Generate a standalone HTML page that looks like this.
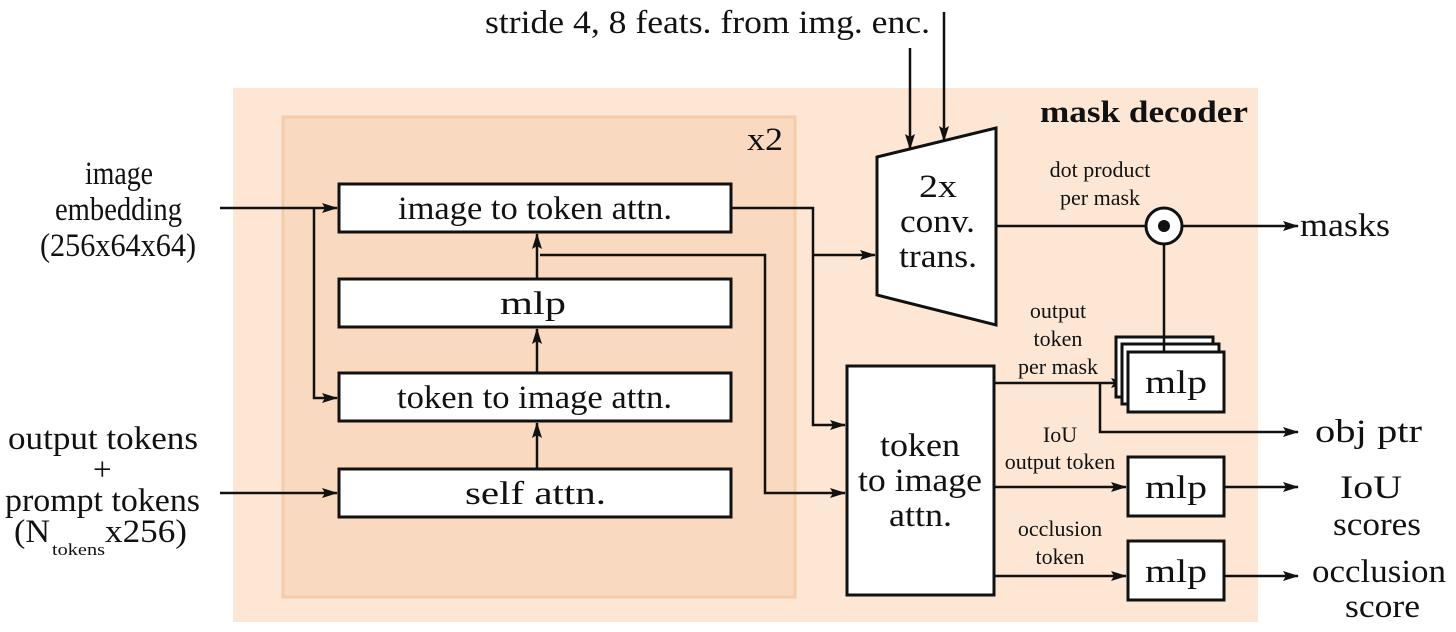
<!DOCTYPE html>
<html><head><style>
html,body{margin:0;padding:0;background:#fff;width:1456px;height:632px;overflow:hidden}
svg{display:block}
svg text{font-family:"Liberation Serif","Times New Roman",serif;fill:#111}
</style></head><body>
<svg width="1456" height="632" viewBox="0 0 1456 632" xmlns="http://www.w3.org/2000/svg" font-family="Liberation Serif, serif">
<defs>
<marker id="a" markerWidth="16" markerHeight="10" refX="15" refY="5" orient="auto" markerUnits="userSpaceOnUse">
<path d="M0,0 L16,5 L0,10 L3,5 Z" fill="#111"/></marker>
</defs>
<rect x="233" y="88" width="1025" height="534" fill="#fde7d4"/>
<rect x="283" y="117" width="512" height="480" fill="#f9dac0" stroke="#f5cba9" stroke-width="3"/>
<g stroke="#111" stroke-width="2.5" fill="none">
<line x1="220" y1="208" x2="337" y2="208" marker-end="url(#a)"/>
<polyline points="314,208 314,398 337,398" marker-end="url(#a)"/>
<line x1="220" y1="493" x2="337" y2="493" marker-end="url(#a)"/>
<line x1="537" y1="469" x2="537" y2="423" marker-end="url(#a)"/>
<line x1="537" y1="373" x2="537" y2="329" marker-end="url(#a)"/>
<line x1="537" y1="279" x2="537" y2="234" marker-end="url(#a)"/>
<polyline points="540,255 765,255 765,493 845,493" marker-end="url(#a)"/>
<polyline points="731,208 813,208 813,425 845,425" marker-end="url(#a)"/>
<line x1="813" y1="255" x2="875" y2="255" marker-end="url(#a)"/>
<line x1="910" y1="48" x2="910" y2="149" marker-end="url(#a)"/>
<line x1="944" y1="12" x2="944" y2="141" marker-end="url(#a)"/>
<line x1="996" y1="226" x2="1146" y2="226"/>
<line x1="1182" y1="226" x2="1298" y2="226" marker-end="url(#a)"/>
<line x1="1164" y1="244" x2="1164" y2="351"/>
<line x1="994" y1="383" x2="1126" y2="383" marker-end="url(#a)"/>
<polyline points="1100,383 1100,432 1298,432" marker-end="url(#a)"/>
<line x1="994" y1="487" x2="1126" y2="487" marker-end="url(#a)"/>
<line x1="1224" y1="487" x2="1298" y2="487" marker-end="url(#a)"/>
<line x1="994" y1="576" x2="1126" y2="576" marker-end="url(#a)"/>
<line x1="1224" y1="576" x2="1298" y2="576" marker-end="url(#a)"/>
</g>
<g stroke="#111" stroke-width="3" fill="#fff">
<rect x="339" y="184" width="392" height="48"/>
<rect x="339" y="279" width="392" height="48"/>
<rect x="339" y="373" width="392" height="48"/>
<rect x="339" y="469" width="392" height="48"/>
<rect x="847" y="366" width="147" height="229"/>
<polygon points="877,157 996,128 996,325 877,295"/>
<rect x="1116" y="337" width="97" height="60"/>
<rect x="1122" y="344" width="97" height="60"/>
<rect x="1128" y="352" width="96" height="60"/>
<rect x="1128" y="457" width="96" height="59"/>
<rect x="1128" y="541" width="96" height="59"/>
<circle cx="1164" cy="226" r="18"/>
</g>
<line x1="1164" y1="337" x2="1164" y2="351" stroke="#111" stroke-width="2.5"/>
<circle cx="1164" cy="226" r="6" fill="#111"/>
<g font-size="33">
<text x="398" y="219" textLength="274" lengthAdjust="spacingAndGlyphs">image to token attn.</text>
<text x="500" y="314" textLength="66" lengthAdjust="spacingAndGlyphs">mlp</text>
<text x="397" y="408" textLength="275" lengthAdjust="spacingAndGlyphs">token to image attn.</text>
<text x="465" y="504" textLength="141" lengthAdjust="spacingAndGlyphs">self attn.</text>
<text x="880" y="456" textLength="80" lengthAdjust="spacingAndGlyphs">token</text>
<text x="858" y="491" textLength="124" lengthAdjust="spacingAndGlyphs">to image</text>
<text x="889" y="526" textLength="63" lengthAdjust="spacingAndGlyphs">attn.</text>
<text x="919" y="197" textLength="38" lengthAdjust="spacingAndGlyphs">2x</text>
<text x="900" y="232" textLength="75" lengthAdjust="spacingAndGlyphs">conv.</text>
<text x="899" y="267" textLength="78" lengthAdjust="spacingAndGlyphs">trans.</text>
<text x="1145" y="393" textLength="62" lengthAdjust="spacingAndGlyphs">mlp</text>
<text x="1145" y="498" textLength="62" lengthAdjust="spacingAndGlyphs">mlp</text>
<text x="1145" y="582" textLength="62" lengthAdjust="spacingAndGlyphs">mlp</text>
<text x="747" y="150" textLength="36" lengthAdjust="spacingAndGlyphs">x2</text>
<text x="85" y="184" textLength="68" lengthAdjust="spacingAndGlyphs">image</text>
<text x="55" y="220" textLength="127" lengthAdjust="spacingAndGlyphs">embedding</text>
<text x="40" y="256" textLength="156" lengthAdjust="spacingAndGlyphs">(256x64x64)</text>
<text x="8" y="449" textLength="190" lengthAdjust="spacingAndGlyphs">output tokens</text>
<text x="93" y="480">+</text>
<text x="5" y="511" textLength="195" lengthAdjust="spacingAndGlyphs">prompt tokens</text>
<text x="1300" y="236" textLength="90" lengthAdjust="spacingAndGlyphs">masks</text>
<text x="1315" y="442" textLength="107" lengthAdjust="spacingAndGlyphs">obj ptr</text>
<text x="1340" y="498" textLength="62" lengthAdjust="spacingAndGlyphs">IoU</text>
<text x="1333" y="535" textLength="88" lengthAdjust="spacingAndGlyphs">scores</text>
<text x="1312" y="582" textLength="134" lengthAdjust="spacingAndGlyphs">occlusion</text>
<text x="1345" y="617" textLength="75" lengthAdjust="spacingAndGlyphs">score</text>
<text x="485" y="33" textLength="445" lengthAdjust="spacingAndGlyphs">stride 4, 8 feats. from img. enc.</text>
<text x="14" y="542" textLength="36" lengthAdjust="spacingAndGlyphs">(N</text>
<text x="105" y="542" textLength="82" lengthAdjust="spacingAndGlyphs">x256)</text>
</g>
<text x="52" y="555" font-size="17" textLength="53" lengthAdjust="spacingAndGlyphs">tokens</text>
<text x="1040" y="122" font-size="31" font-weight="bold" textLength="208" lengthAdjust="spacingAndGlyphs">mask decoder</text>
<g font-size="22" text-anchor="middle">
<text x="1100" y="177">dot product</text>
<text x="1100" y="205">per mask</text>
<text x="1058" y="318">output</text>
<text x="1058" y="346">token</text>
<text x="1058" y="374">per mask</text>
<text x="1060" y="442">IoU</text>
<text x="1060" y="469">output token</text>
<text x="1060" y="536">occlusion</text>
<text x="1060" y="564">token</text>
</g>
</svg>
</body></html>
